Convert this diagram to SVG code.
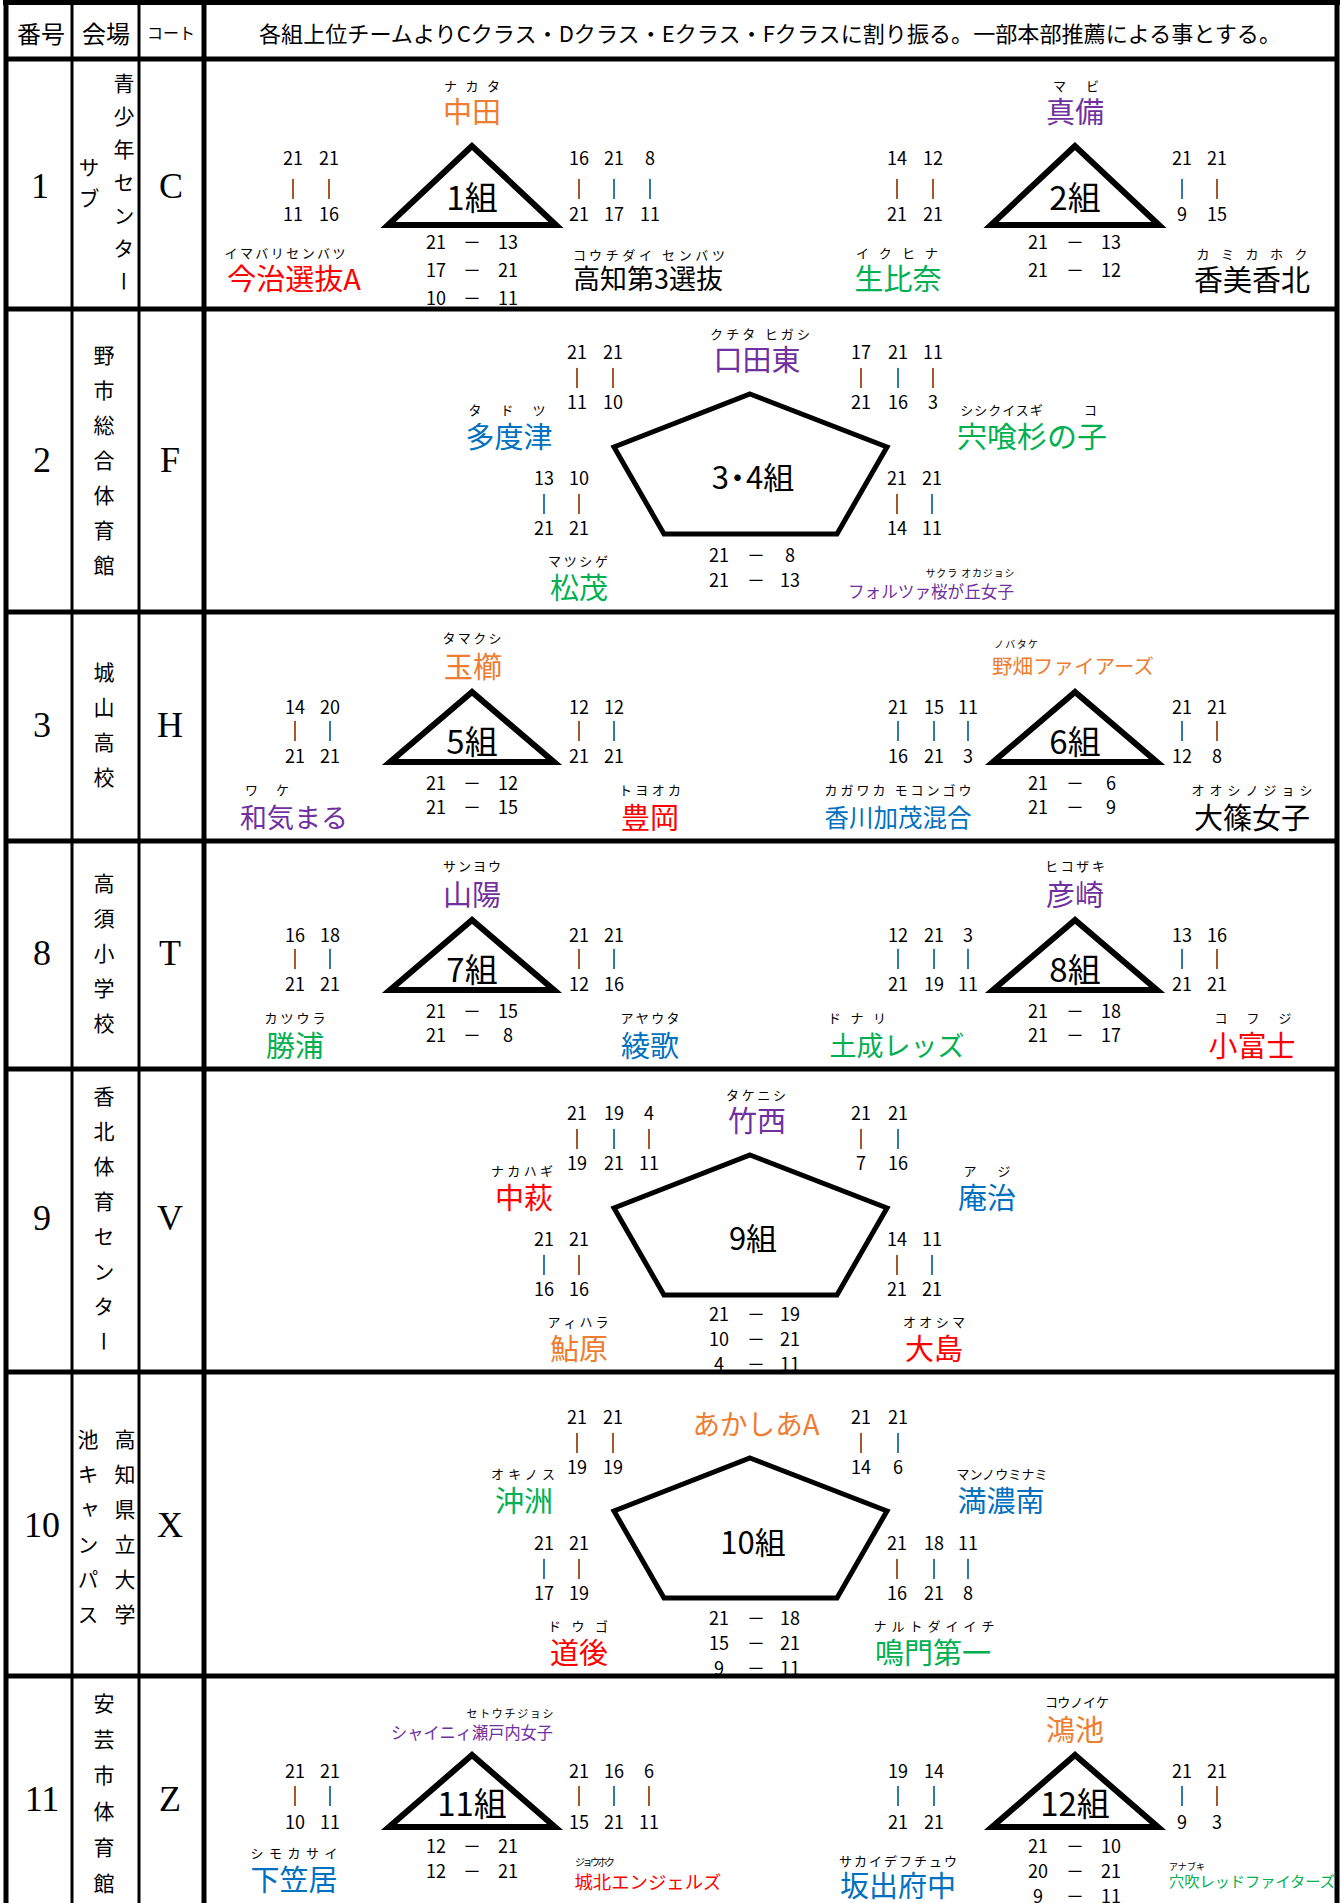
<svg xmlns="http://www.w3.org/2000/svg" width="1342" height="1903" viewBox="0 0 1342 1903">
<style>
text{font-family:"Noto Sans CJK JP","Noto Sans",sans-serif;dominant-baseline:central;text-anchor:middle;fill:#000}
.s{font-size:18px}
.f{font-size:13px}
.f10{font-size:10px}
.n{font-size:29px}
.g{font-size:33px}
.h{font-size:24px}
.ser{font-family:"Liberation Serif",serif;font-size:36px}
.v{font-size:21px;writing-mode:vertical-rl;dominant-baseline:auto}
.or{fill:#ED7D31}.pu{fill:#7030A0}.gr{fill:#00B050}.bl{fill:#0070C0}.rd{fill:#FF0000}
.shape{fill:#fff;stroke:#000;stroke-width:6;stroke-linejoin:miter}
.pent{fill:#fff;stroke:#000;stroke-width:5;stroke-linejoin:miter}
.ln{stroke:#000;fill:none}
</style>
<rect x="0" y="0" width="1342" height="1903" fill="#fff"/>

<g id="header">
<text class="h" x="41" y="32">番号</text>
<text class="h" x="106" y="32">会場</text>
<text x="171" y="32" style="font-size:16px">コート</text>
<text x="770" y="32" style="font-size:22px" textLength="1022" lengthAdjust="spacingAndGlyphs">各組上位チームよりCクラス・Dクラス・Eクラス・Fクラスに割り振る。一部本部推薦による事とする。</text>
</g>

<g id="row-labels">
<text class="ser" x="40" y="186">1</text>
<text class="ser" x="171" y="186">C</text>
<text class="v" x="124" y="188" letter-spacing="12">青少年センター</text>
<text class="v" x="89" y="188" letter-spacing="10">サブ</text>

<text class="ser" x="42" y="460">2</text>
<text class="ser" x="170" y="460">F</text>
<text class="v" x="104" y="467" letter-spacing="14">野市総合体育館</text>

<text class="ser" x="42" y="725">3</text>
<text class="ser" x="170" y="725">H</text>
<text class="v" x="104" y="732" letter-spacing="14">城山高校</text>

<text class="ser" x="42" y="953">8</text>
<text class="ser" x="170" y="953">T</text>
<text class="v" x="104" y="960" letter-spacing="14">高須小学校</text>

<text class="ser" x="42" y="1218">9</text>
<text class="ser" x="170" y="1218">V</text>
<text class="v" x="104" y="1226" letter-spacing="14">香北体育センター</text>

<text class="ser" x="42" y="1525">10</text>
<text class="ser" x="170" y="1525">X</text>
<text class="v" x="125" y="1534" letter-spacing="14">高知県立大学</text>
<text class="v" x="88" y="1534" letter-spacing="14">池キャンパス</text>

<text class="ser" x="42" y="1799">11</text>
<text class="ser" x="170" y="1799">Z</text>
<text class="v" x="104" y="1801" letter-spacing="15">安芸市体育館</text>
</g>

<!-- Row 1 -->
<g id="group1">
<polygon class="shape" points="472,146 388,225 556,225"/>
<text class="g" x="472" y="196">1組</text>
<text class="f" x="472" y="85" textLength="56" lengthAdjust="spacing">ナカタ</text>
<text class="n or" x="472" y="110">中田</text>
<text class="f" x="285" y="252" textLength="121" lengthAdjust="spacing">イマバリセンバツ</text>
<text class="n rd" x="294" y="277">今治選抜A</text>
<text class="f" x="649" y="254" textLength="152" lengthAdjust="spacing">コウチダイ センバツ</text>
<text class="n" x="648" y="277" style="font-size:27px">高知第3選抜</text>
<text class="s" y="157"><tspan x="293">21</tspan><tspan x="329">21</tspan></text>
<text class="s" y="186"><tspan x="293">|</tspan><tspan x="329">|</tspan></text>
<text class="s" y="213"><tspan x="293">11</tspan><tspan x="329">16</tspan></text>
<text class="s" y="157"><tspan x="579">16</tspan><tspan x="614">21</tspan><tspan x="650">8</tspan></text>
<text class="s" y="186"><tspan x="579">|</tspan><tspan x="614">|</tspan><tspan x="650">|</tspan></text>
<text class="s" y="213"><tspan x="579">21</tspan><tspan x="614">17</tspan><tspan x="650">11</tspan></text>
<text class="s" y="241"><tspan x="436">21</tspan><tspan x="472">－</tspan><tspan x="508">13</tspan></text>
<text class="s" y="269"><tspan x="436">17</tspan><tspan x="472">－</tspan><tspan x="508">21</tspan></text>
<text class="s" y="297"><tspan x="436">10</tspan><tspan x="472">－</tspan><tspan x="508">11</tspan></text>
</g>

<g id="group2">
<polygon class="shape" points="1075,146 991,225 1159,225"/>
<text class="g" x="1075" y="196">2組</text>
<text class="f" x="1076" y="85" textLength="46" lengthAdjust="spacing">マビ</text>
<text class="n pu" x="1075" y="110">真備</text>
<text class="f" x="897" y="252" textLength="82" lengthAdjust="spacing">イクヒナ</text>
<text class="n gr" x="898" y="277">生比奈</text>
<text class="f" x="1252" y="253" textLength="111" lengthAdjust="spacing">カミカホク</text>
<text class="n" x="1252" y="278">香美香北</text>
<text class="s" y="157"><tspan x="897">14</tspan><tspan x="933">12</tspan></text>
<text class="s" y="186"><tspan x="897">|</tspan><tspan x="933">|</tspan></text>
<text class="s" y="213"><tspan x="897">21</tspan><tspan x="933">21</tspan></text>
<text class="s" y="157"><tspan x="1182">21</tspan><tspan x="1217">21</tspan></text>
<text class="s" y="186"><tspan x="1182">|</tspan><tspan x="1217">|</tspan></text>
<text class="s" y="213"><tspan x="1182">9</tspan><tspan x="1217">15</tspan></text>
<text class="s" y="241"><tspan x="1038">21</tspan><tspan x="1075">－</tspan><tspan x="1111">13</tspan></text>
<text class="s" y="269"><tspan x="1038">21</tspan><tspan x="1075">－</tspan><tspan x="1111">12</tspan></text>
</g>

<!-- Row 2 -->
<g id="group3-4">
<polygon class="pent" points="750,394 887,447 837,534 664,534 614,447"/>
<text class="g" x="753" y="475" style="font-size:31px">3<tspan dx="-7">・</tspan><tspan dx="-7">4組</tspan></text>
<text class="f" x="760" y="333" textLength="100" lengthAdjust="spacing">クチタ ヒガシ</text>
<text class="n pu" x="757" y="358">口田東</text>
<text class="f" x="507" y="409" textLength="77" lengthAdjust="spacing">タドツ</text>
<text class="n bl" x="509" y="435">多度津</text>
<text class="f" y="409" letter-spacing="1"><tspan x="1002">シシクイスギ</tspan><tspan x="1091">コ</tspan></text>
<text class="n gr" x="1032" y="435" textLength="150" lengthAdjust="spacingAndGlyphs">宍喰杉の子</text>
<text class="f" x="578" y="560" textLength="60" lengthAdjust="spacing">マツシゲ</text>
<text class="n gr" x="579" y="586">松茂</text>
<text class="f10" x="970" y="572" textLength="89" lengthAdjust="spacing">サクラ オカジョシ</text>
<text class="pu" x="931" y="590" style="font-size:17px" textLength="166" lengthAdjust="spacingAndGlyphs">フォルツァ桜が丘女子</text>
<text class="s" y="351"><tspan x="577">21</tspan><tspan x="613">21</tspan></text>
<text class="s" y="375"><tspan x="577">|</tspan><tspan x="613">|</tspan></text>
<text class="s" y="401"><tspan x="577">11</tspan><tspan x="613">10</tspan></text>
<text class="s" y="351"><tspan x="861">17</tspan><tspan x="898">21</tspan><tspan x="933">11</tspan></text>
<text class="s" y="375"><tspan x="861">|</tspan><tspan x="898">|</tspan><tspan x="933">|</tspan></text>
<text class="s" y="401"><tspan x="861">21</tspan><tspan x="898">16</tspan><tspan x="933">3</tspan></text>
<text class="s" y="477"><tspan x="544">13</tspan><tspan x="579">10</tspan></text>
<text class="s" y="501"><tspan x="544">|</tspan><tspan x="579">|</tspan></text>
<text class="s" y="527"><tspan x="544">21</tspan><tspan x="579">21</tspan></text>
<text class="s" y="477"><tspan x="897">21</tspan><tspan x="932">21</tspan></text>
<text class="s" y="501"><tspan x="897">|</tspan><tspan x="932">|</tspan></text>
<text class="s" y="527"><tspan x="897">14</tspan><tspan x="932">11</tspan></text>
<text class="s" y="554"><tspan x="719">21</tspan><tspan x="756">－</tspan><tspan x="790">8</tspan></text>
<text class="s" y="579"><tspan x="719">21</tspan><tspan x="756">－</tspan><tspan x="790">13</tspan></text>
</g>

<!-- Row 3 -->
<g id="group5">
<polygon class="shape" points="472,692 390,762 554,762"/>
<text class="g" x="472" y="740">5組</text>
<text class="f" x="472" y="637" textLength="59" lengthAdjust="spacing">タマクシ</text>
<text class="n or" x="473" y="665">玉櫛</text>
<text class="f" x="267" y="789" textLength="44" lengthAdjust="spacing">ワケ</text>
<text class="n pu" x="294" y="816" style="font-size:27px">和気まる</text>
<text class="f" x="650" y="789" textLength="62" lengthAdjust="spacing">トヨオカ</text>
<text class="n rd" x="650" y="816">豊岡</text>
<text class="s" y="706"><tspan x="295">14</tspan><tspan x="330">20</tspan></text>
<text class="s" y="728"><tspan x="295">|</tspan><tspan x="330">|</tspan></text>
<text class="s" y="755"><tspan x="295">21</tspan><tspan x="330">21</tspan></text>
<text class="s" y="706"><tspan x="579">12</tspan><tspan x="614">12</tspan></text>
<text class="s" y="728"><tspan x="579">|</tspan><tspan x="614">|</tspan></text>
<text class="s" y="755"><tspan x="579">21</tspan><tspan x="614">21</tspan></text>
<text class="s" y="782"><tspan x="436">21</tspan><tspan x="472">－</tspan><tspan x="508">12</tspan></text>
<text class="s" y="806"><tspan x="436">21</tspan><tspan x="472">－</tspan><tspan x="508">15</tspan></text>
</g>

<g id="group6">
<polygon class="shape" points="1075,692 993,762 1157,762"/>
<text class="g" x="1075" y="740">6組</text>
<text class="f10" x="1016" y="643" textLength="44" lengthAdjust="spacing">ノバタケ</text>
<text class="or" x="1073" y="665" style="font-size:20px" textLength="162" lengthAdjust="spacingAndGlyphs">野畑ファイアーズ</text>
<text class="f" x="898" y="789" textLength="147" lengthAdjust="spacing">カガワカ モコンゴウ</text>
<text class="bl" x="898" y="816" style="font-size:25px" textLength="147" lengthAdjust="spacingAndGlyphs">香川加茂混合</text>
<text class="f" x="1252" y="789" textLength="121" lengthAdjust="spacing">オオシノジョシ</text>
<text class="n" x="1252" y="816">大篠女子</text>
<text class="s" y="706"><tspan x="898">21</tspan><tspan x="934">15</tspan><tspan x="968">11</tspan></text>
<text class="s" y="728"><tspan x="898">|</tspan><tspan x="934">|</tspan><tspan x="968">|</tspan></text>
<text class="s" y="755"><tspan x="898">16</tspan><tspan x="934">21</tspan><tspan x="968">3</tspan></text>
<text class="s" y="706"><tspan x="1182">21</tspan><tspan x="1217">21</tspan></text>
<text class="s" y="728"><tspan x="1182">|</tspan><tspan x="1217">|</tspan></text>
<text class="s" y="755"><tspan x="1182">12</tspan><tspan x="1217">8</tspan></text>
<text class="s" y="782"><tspan x="1038">21</tspan><tspan x="1075">－</tspan><tspan x="1111">6</tspan></text>
<text class="s" y="806"><tspan x="1038">21</tspan><tspan x="1075">－</tspan><tspan x="1111">9</tspan></text>
</g>

<!-- Row 4 -->
<g id="group7">
<polygon class="shape" points="472,920 390,990 554,990"/>
<text class="g" x="472" y="968">7組</text>
<text class="f" x="472" y="865" textLength="58" lengthAdjust="spacing">サンヨウ</text>
<text class="n pu" x="472" y="893">山陽</text>
<text class="f" x="295" y="1017" textLength="61" lengthAdjust="spacing">カツウラ</text>
<text class="n gr" x="295" y="1044">勝浦</text>
<text class="f" x="650" y="1017" textLength="59" lengthAdjust="spacing">アヤウタ</text>
<text class="n bl" x="650" y="1044">綾歌</text>
<text class="s" y="934"><tspan x="295">16</tspan><tspan x="330">18</tspan></text>
<text class="s" y="956"><tspan x="295">|</tspan><tspan x="330">|</tspan></text>
<text class="s" y="983"><tspan x="295">21</tspan><tspan x="330">21</tspan></text>
<text class="s" y="934"><tspan x="579">21</tspan><tspan x="614">21</tspan></text>
<text class="s" y="956"><tspan x="579">|</tspan><tspan x="614">|</tspan></text>
<text class="s" y="983"><tspan x="579">12</tspan><tspan x="614">16</tspan></text>
<text class="s" y="1010"><tspan x="436">21</tspan><tspan x="472">－</tspan><tspan x="508">15</tspan></text>
<text class="s" y="1034"><tspan x="436">21</tspan><tspan x="472">－</tspan><tspan x="508">8</tspan></text>
</g>

<g id="group8">
<polygon class="shape" points="1075,920 993,990 1157,990"/>
<text class="g" x="1075" y="968">8組</text>
<text class="f" x="1075" y="865" textLength="60" lengthAdjust="spacing">ヒコザキ</text>
<text class="n pu" x="1075" y="893">彦崎</text>
<text class="f" x="857" y="1017" textLength="58" lengthAdjust="spacing">ドナリ</text>
<text class="n gr" x="897" y="1044" style="font-size:27px">土成レッズ</text>
<text class="f" x="1253" y="1017" textLength="77" lengthAdjust="spacing">コフジ</text>
<text class="n rd" x="1252" y="1044">小富士</text>
<text class="s" y="934"><tspan x="898">12</tspan><tspan x="934">21</tspan><tspan x="968">3</tspan></text>
<text class="s" y="956"><tspan x="898">|</tspan><tspan x="934">|</tspan><tspan x="968">|</tspan></text>
<text class="s" y="983"><tspan x="898">21</tspan><tspan x="934">19</tspan><tspan x="968">11</tspan></text>
<text class="s" y="934"><tspan x="1182">13</tspan><tspan x="1217">16</tspan></text>
<text class="s" y="956"><tspan x="1182">|</tspan><tspan x="1217">|</tspan></text>
<text class="s" y="983"><tspan x="1182">21</tspan><tspan x="1217">21</tspan></text>
<text class="s" y="1010"><tspan x="1038">21</tspan><tspan x="1075">－</tspan><tspan x="1111">18</tspan></text>
<text class="s" y="1034"><tspan x="1038">21</tspan><tspan x="1075">－</tspan><tspan x="1111">17</tspan></text>
</g>

<!-- Row 5 -->
<g id="group9">
<polygon class="pent" points="750,1155 887,1208 837,1295 664,1295 614,1208"/>
<text class="g" x="753" y="1236" style="font-size:31px">9組</text>
<text class="f" x="756" y="1094" textLength="60" lengthAdjust="spacing">タケニシ</text>
<text class="n pu" x="757" y="1119">竹西</text>
<text class="f" x="522" y="1170" textLength="62" lengthAdjust="spacing">ナカハギ</text>
<text class="n rd" x="524" y="1196">中萩</text>
<text class="f" x="987" y="1170" textLength="47" lengthAdjust="spacing">アジ</text>
<text class="n bl" x="987" y="1196">庵治</text>
<text class="f" x="578" y="1321" textLength="61" lengthAdjust="spacing">アィハラ</text>
<text class="n or" x="579" y="1347">鮎原</text>
<text class="f" x="934" y="1321" textLength="62" lengthAdjust="spacing">オオシマ</text>
<text class="n rd" x="934" y="1347">大島</text>
<text class="s" y="1112"><tspan x="577">21</tspan><tspan x="614">19</tspan><tspan x="649">4</tspan></text>
<text class="s" y="1136"><tspan x="577">|</tspan><tspan x="614">|</tspan><tspan x="649">|</tspan></text>
<text class="s" y="1162"><tspan x="577">19</tspan><tspan x="614">21</tspan><tspan x="649">11</tspan></text>
<text class="s" y="1112"><tspan x="861">21</tspan><tspan x="898">21</tspan></text>
<text class="s" y="1136"><tspan x="861">|</tspan><tspan x="898">|</tspan></text>
<text class="s" y="1162"><tspan x="861">7</tspan><tspan x="898">16</tspan></text>
<text class="s" y="1238"><tspan x="544">21</tspan><tspan x="579">21</tspan></text>
<text class="s" y="1262"><tspan x="544">|</tspan><tspan x="579">|</tspan></text>
<text class="s" y="1288"><tspan x="544">16</tspan><tspan x="579">16</tspan></text>
<text class="s" y="1238"><tspan x="897">14</tspan><tspan x="932">11</tspan></text>
<text class="s" y="1262"><tspan x="897">|</tspan><tspan x="932">|</tspan></text>
<text class="s" y="1288"><tspan x="897">21</tspan><tspan x="932">21</tspan></text>
<text class="s" y="1313"><tspan x="719">21</tspan><tspan x="756">－</tspan><tspan x="790">19</tspan></text>
<text class="s" y="1338"><tspan x="719">10</tspan><tspan x="756">－</tspan><tspan x="790">21</tspan></text>
<text class="s" y="1363"><tspan x="719">4</tspan><tspan x="756">－</tspan><tspan x="790">11</tspan></text>
</g>

<!-- Row 6 -->
<g id="group10">
<polygon class="pent" points="750,1458 887,1511 837,1598 664,1598 614,1511"/>
<text class="g" x="753" y="1540" style="font-size:31px">10組</text>
<text class="or" x="756" y="1423" style="font-size:28px" textLength="127" lengthAdjust="spacingAndGlyphs">あかしあA</text>
<text class="f" x="523" y="1473" textLength="64" lengthAdjust="spacing">オキノス</text>
<text class="n gr" x="524" y="1499">沖洲</text>
<text class="f" x="1002" y="1473" textLength="91" lengthAdjust="spacing">マンノウミナミ</text>
<text class="n bl" x="1001" y="1499">満濃南</text>
<text class="f" x="578" y="1625" textLength="60" lengthAdjust="spacing">ドウゴ</text>
<text class="n rd" x="579" y="1651">道後</text>
<text class="f" x="934" y="1625" textLength="121" lengthAdjust="spacing">ナルトダイイチ</text>
<text class="n gr" x="933" y="1651">鳴門第一</text>
<text class="s" y="1416"><tspan x="577">21</tspan><tspan x="613">21</tspan></text>
<text class="s" y="1440"><tspan x="577">|</tspan><tspan x="613">|</tspan></text>
<text class="s" y="1466"><tspan x="577">19</tspan><tspan x="613">19</tspan></text>
<text class="s" y="1416"><tspan x="861">21</tspan><tspan x="898">21</tspan></text>
<text class="s" y="1440"><tspan x="861">|</tspan><tspan x="898">|</tspan></text>
<text class="s" y="1466"><tspan x="861">14</tspan><tspan x="898">6</tspan></text>
<text class="s" y="1542"><tspan x="544">21</tspan><tspan x="579">21</tspan></text>
<text class="s" y="1566"><tspan x="544">|</tspan><tspan x="579">|</tspan></text>
<text class="s" y="1592"><tspan x="544">17</tspan><tspan x="579">19</tspan></text>
<text class="s" y="1542"><tspan x="897">21</tspan><tspan x="934">18</tspan><tspan x="968">11</tspan></text>
<text class="s" y="1566"><tspan x="897">|</tspan><tspan x="934">|</tspan><tspan x="968">|</tspan></text>
<text class="s" y="1592"><tspan x="897">16</tspan><tspan x="934">21</tspan><tspan x="968">8</tspan></text>
<text class="s" y="1617"><tspan x="719">21</tspan><tspan x="756">－</tspan><tspan x="790">18</tspan></text>
<text class="s" y="1642"><tspan x="719">15</tspan><tspan x="756">－</tspan><tspan x="790">21</tspan></text>
<text class="s" y="1667"><tspan x="719">9</tspan><tspan x="756">－</tspan><tspan x="790">11</tspan></text>
</g>

<!-- Row 7 -->
<g id="group11">
<polygon class="shape" points="472,1755 389,1827 555,1827"/>
<text class="g" x="472" y="1802">11組</text>
<text x="510" y="1713" style="font-size:11px" textLength="87" lengthAdjust="spacing">セトウチジョシ</text>
<text class="pu" x="472" y="1731" style="font-size:17px" textLength="162" lengthAdjust="spacingAndGlyphs">シャイニィ瀬戸内女子</text>
<text class="f" x="294" y="1852" textLength="87" lengthAdjust="spacing">シモカサイ</text>
<text class="n bl" x="294" y="1878">下笠居</text>
<text class="f10" x="595" y="1861" textLength="40" lengthAdjust="spacing">ジョウホク</text>
<text class="rd" x="648" y="1881" style="font-size:18px" textLength="147" lengthAdjust="spacingAndGlyphs">城北エンジェルズ</text>
<text class="s" y="1770"><tspan x="295">21</tspan><tspan x="330">21</tspan></text>
<text class="s" y="1793"><tspan x="295">|</tspan><tspan x="330">|</tspan></text>
<text class="s" y="1821"><tspan x="295">10</tspan><tspan x="330">11</tspan></text>
<text class="s" y="1770"><tspan x="579">21</tspan><tspan x="614">16</tspan><tspan x="649">6</tspan></text>
<text class="s" y="1793"><tspan x="579">|</tspan><tspan x="614">|</tspan><tspan x="649">|</tspan></text>
<text class="s" y="1821"><tspan x="579">15</tspan><tspan x="614">21</tspan><tspan x="649">11</tspan></text>
<text class="s" y="1845"><tspan x="436">12</tspan><tspan x="472">－</tspan><tspan x="508">21</tspan></text>
<text class="s" y="1870"><tspan x="436">12</tspan><tspan x="472">－</tspan><tspan x="508">21</tspan></text>
</g>

<g id="group12">
<polygon class="shape" points="1075,1755 992,1827 1158,1827"/>
<text class="g" x="1075" y="1802">12組</text>
<text class="f" x="1077" y="1701" textLength="64" lengthAdjust="spacing">コウノイケ</text>
<text class="n or" x="1075" y="1728">鴻池</text>
<text class="f" x="898" y="1860" textLength="118" lengthAdjust="spacing">サカイデフチュウ</text>
<text class="n bl" x="898" y="1884">坂出府中</text>
<text x="1187" y="1866" style="font-size:9px" textLength="36" lengthAdjust="spacing">アナブキ</text>
<text class="gr" x="1252" y="1880" style="font-size:15px" textLength="166" lengthAdjust="spacingAndGlyphs">穴吹レッドファイターズ</text>
<text class="s" y="1770"><tspan x="898">19</tspan><tspan x="934">14</tspan></text>
<text class="s" y="1793"><tspan x="898">|</tspan><tspan x="934">|</tspan></text>
<text class="s" y="1821"><tspan x="898">21</tspan><tspan x="934">21</tspan></text>
<text class="s" y="1770"><tspan x="1182">21</tspan><tspan x="1217">21</tspan></text>
<text class="s" y="1793"><tspan x="1182">|</tspan><tspan x="1217">|</tspan></text>
<text class="s" y="1821"><tspan x="1182">9</tspan><tspan x="1217">3</tspan></text>
<text class="s" y="1845"><tspan x="1038">21</tspan><tspan x="1075">－</tspan><tspan x="1111">10</tspan></text>
<text class="s" y="1870"><tspan x="1038">20</tspan><tspan x="1075">－</tspan><tspan x="1111">21</tspan></text>
<text class="s" y="1895"><tspan x="1038">9</tspan><tspan x="1075">－</tspan><tspan x="1111">11</tspan></text>
</g>

<g id="grid">
<path class="ln" stroke-width="5" d="M6,0V1903M1337,0V1903M3,2.5H1340M6,59H1337M6,309H1337M6,612H1337M6,841H1337M6,1069H1337M6,1372H1337M6,1676H1337"/>
<path class="ln" stroke-width="3" d="M72,0V1903M139,0V1903"/>
<path class="ln" stroke-width="5" d="M204,0V1903"/>
</g>
</svg>
